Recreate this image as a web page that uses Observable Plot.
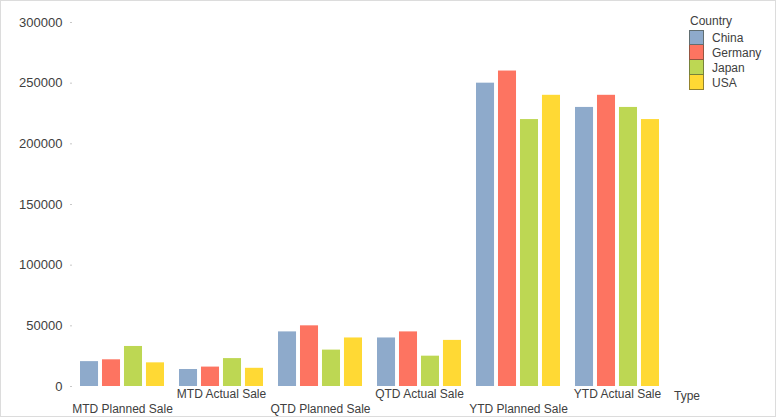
<!DOCTYPE html>
<html>
<head>
<meta charset="utf-8">
<script src="https://cdn.jsdelivr.net/npm/d3@7"></script>
<script src="https://cdn.jsdelivr.net/npm/@observablehq/plot@0.6"></script>
<style>
  html, body { margin: 0; padding: 0; background: #fff; }
  #wrap { position: relative; width: 776px; height: 417px; overflow: hidden; font-family: "Liberation Sans", Arial, sans-serif; color: #404040; }
  #frame { position: absolute; left: 0; top: 0; width: 776px; height: 417px; box-sizing: border-box; border: 1px solid #dcdcdc; pointer-events: none; }
  #legend { position: absolute; left: 689px; top: 13px; font-size: 12px; }
  #legend .title { height: 17px; line-height: 16px; margin-left: 1px; }
  #legend .row { display: flex; align-items: center; height: 15px; }
  #legend .sw { width: 15px; height: 15px; box-sizing: border-box; border: 1px solid rgba(60,60,40,0.55); margin-right: 8px; }
  #legend .row + .row .sw { border-top: none; height: 15px; }
  #typeLabel { position: absolute; left: 674px; top: 389px; font-size: 12px; }
</style>
</head>
<body>
<div id="wrap">
  <div id="chart"></div>
  <div id="legend"></div>
  <div id="typeLabel">Type</div>
  <div id="frame"></div>
</div>
<script>
const types = ["MTD Planned Sale", "MTD Actual Sale", "QTD Planned Sale", "QTD Actual Sale", "YTD Planned Sale", "YTD Actual Sale"];
const countries = ["China", "Germany", "Japan", "USA"];
const colors = ["#8eaacb", "#fd7461", "#bdd753", "#ffd934"];
const china   = [20500, 14000, 45000, 40000, 250000, 230000];
const germany = [22000, 16000, 50000, 45000, 260000, 240000];
const japan   = [33000, 23000, 30000, 25000, 220000, 230000];
const usa     = [19500, 15000, 40000, 38000, 240000, 220000];
const yTicks  = [0, 50000, 100000, 150000, 200000, 250000, 300000];

const series = {China: china, Germany: germany, Japan: japan, USA: usa};
const data = [];
types.forEach((t, i) => countries.forEach(c => data.push({type: t, country: c, value: series[c][i]})));

const chart = Plot.plot({
  width: 776,
  height: 417,
  marginTop: 22,
  marginBottom: 31,
  marginLeft: 80,
  marginRight: 117,
  style: {fontFamily: "'Liberation Sans', Arial, sans-serif", fontSize: "12px", color: "#404040", background: "transparent"},
  fx: {domain: types, paddingInner: 15 / 99, paddingOuter: 0, round: false, label: null},
  x: {domain: countries, paddingInner: 0.18, paddingOuter: 0, round: false, axis: null},
  y: {domain: [0, 300000]},
  color: {domain: countries, range: colors},
  marks: [
    Plot.axisY({ticks: yTicks, tickFormat: d3.format("d"), tickSize: 2, tickPadding: 8, dx: -8, fontSize: 13, stroke: "#c8c8c8", fill: "#404040", label: null}),
    Plot.barY(data, {fx: "type", x: "country", y: "value", fill: "country"}),
    Plot.axisFx({anchor: "bottom", ticks: types.filter((d, i) => i % 2 === 1), tickSize: 0, tickPadding: 3, label: null}),
    Plot.axisFx({anchor: "bottom", ticks: types.filter((d, i) => i % 2 === 0), tickSize: 0, tickPadding: 18, label: null})
  ]
});
document.getElementById("chart").appendChild(chart);

const legend = document.getElementById("legend");
const title = document.createElement("div");
title.className = "title";
title.textContent = "Country";
legend.appendChild(title);
countries.forEach((c, i) => {
  const row = document.createElement("div");
  row.className = "row";
  const sw = document.createElement("div");
  sw.className = "sw";
  sw.style.background = colors[i];
  const lab = document.createElement("span");
  lab.textContent = c;
  row.appendChild(sw);
  row.appendChild(lab);
  legend.appendChild(row);
});
</script>
</body>
</html>
